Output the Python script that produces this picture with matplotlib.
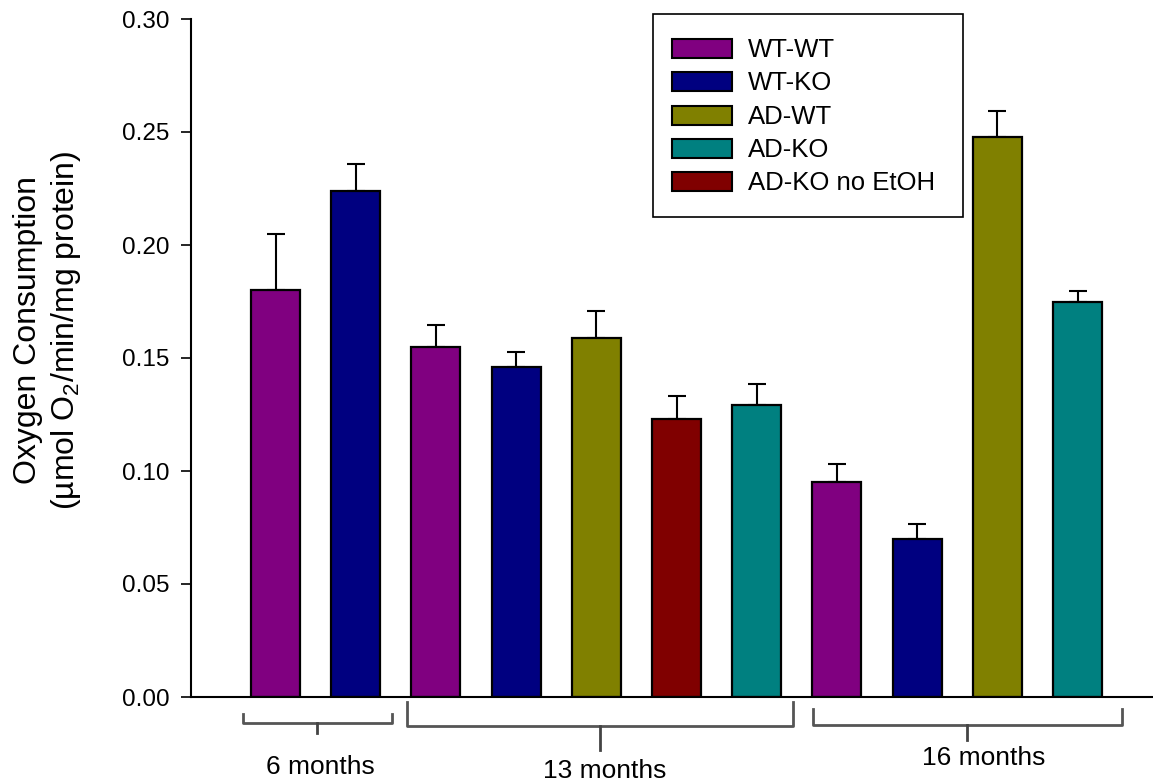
import matplotlib
matplotlib.use("Agg")
import matplotlib.pyplot as plt
from matplotlib.patches import Rectangle
from matplotlib.lines import Line2D
import matplotlib.transforms as mtransforms

plt.rcParams['font.family'] = ['Liberation Sans', 'DejaVu Sans']
plt.rcParams['mathtext.fontset'] = 'custom'
plt.rcParams['mathtext.rm'] = 'Liberation Sans'

# ---- data ----
groups = ["6 months", "13 months", "16 months"]
series = ["WT-WT", "WT-KO", "AD-WT", "AD-KO", "AD-KO no EtOH"]
colors = {"WT-WT": "#800080", "WT-KO": "#000080", "AD-WT": "#808000",
          "AD-KO": "#008080", "AD-KO no EtOH": "#800000"}
bar_group = ["6 months", "6 months",
             "13 months", "13 months", "13 months", "13 months", "13 months",
             "16 months", "16 months", "16 months", "16 months"]
bar_series = ["WT-WT", "WT-KO",
              "WT-WT", "WT-KO", "AD-WT", "AD-KO no EtOH", "AD-KO",
              "WT-WT", "WT-KO", "AD-WT", "AD-KO"]
values = [0.180, 0.224, 0.155, 0.146, 0.159, 0.123, 0.129, 0.095, 0.070, 0.248, 0.175]
errors = [0.025, 0.012, 0.0097, 0.0068, 0.0117, 0.0101, 0.0097, 0.0080, 0.0066, 0.0115, 0.0048]
yticks = [0.00, 0.05, 0.10, 0.15, 0.20, 0.25, 0.30]

W, H = 1153, 783
fig = plt.figure(figsize=(W / 100, H / 100), dpi=100)
ax = fig.add_axes([191 / W, (H - 697) / H, (W - 191) / W, 678 / H])

xpos = list(range(len(values)))
bar_colors = [colors[s] for s in bar_series]
ax.bar(xpos, values, width=0.61, color=bar_colors, edgecolor='black', linewidth=1.6, zorder=2)
ax.errorbar(xpos, values, yerr=[[0] * len(values), errors], fmt='none', ecolor='black',
            elinewidth=1.5, capsize=6.8, capthick=1.5, zorder=1)

ax.set_xlim(-1.054, 10.941)
ax.set_ylim(0, 0.30)
ax.set_yticks(yticks)
ax.set_yticklabels([f"{t:.2f}" for t in yticks], fontsize=17.5)
ax.tick_params(axis='y', length=7.2, width=1.2, pad=8.5, direction='out')
ax.set_xticks([])
for s in ['top', 'right']:
    ax.spines[s].set_visible(False)
for s in ['left', 'bottom']:
    ax.spines[s].set_linewidth(1.5)

# y label
fig.text(48 / W, 1 - 330 / H, "Oxygen Consumption\n(µmol O$_\\mathregular{2}$/min/mg protein)",
         rotation=90, ha='center', va='center', multialignment='center',
         fontsize=23, linespacing=1.25)

# legend (drawn in figure pixel coordinates, measured from the top)
def fx(px):
    return px / W

def fy(py):
    return 1 - py / H

fig.add_artist(Rectangle((fx(653), fy(217)), fx(963) - fx(653), fy(14) - fy(217),
                         transform=fig.transFigure, facecolor='white', edgecolor='black',
                         linewidth=1.2, zorder=5))
row_centers = [48.5, 81.8, 115.1, 148.4, 181.7]
for s, yc in zip(series, row_centers):
    fig.add_artist(Rectangle((fx(672), fy(yc + 9.5)), fx(732) - fx(672), 19 / H,
                             transform=fig.transFigure, facecolor=colors[s],
                             edgecolor='black', linewidth=1.5, zorder=6))
    fig.text(fx(748), fy(yc + 8.5), s, ha='left', va='baseline', fontsize=18.5, zorder=6)

# group brackets (x in data units, y in figure pixels from top)
trans = mtransforms.blended_transform_factory(ax.transData, fig.transFigure)
brackets = [
    # left, right, center, end_top, horiz, tick_bottom, text_x, text_baseline
    (-0.409, 1.4526, 0.5175, 714, 723, 733, 0.555, 774),
    (1.6397, 6.4526, 4.0461, 702, 726, 750, 4.108, 778),
    (6.7020, 10.5561, 8.6222, 709, 725, 740, 8.828, 765),
]
for g, (l, r, c, yt, yh, yb, tx, tb) in zip(groups, brackets):
    xs = [l, l, r, r]
    ys = [yt, yh, yh, yt]
    ax.add_line(Line2D(xs, [fy(v) for v in ys], transform=trans, color='#555555',
                       lw=2, clip_on=False, solid_joinstyle='round'))
    ax.add_line(Line2D([c, c], [fy(yh), fy(yb)], transform=trans, color='#444444',
                       lw=2, clip_on=False))
    ax.text(tx, fy(tb), g, transform=trans, ha='center', va='baseline', fontsize=19)

fig.savefig("out.png", dpi=100)
